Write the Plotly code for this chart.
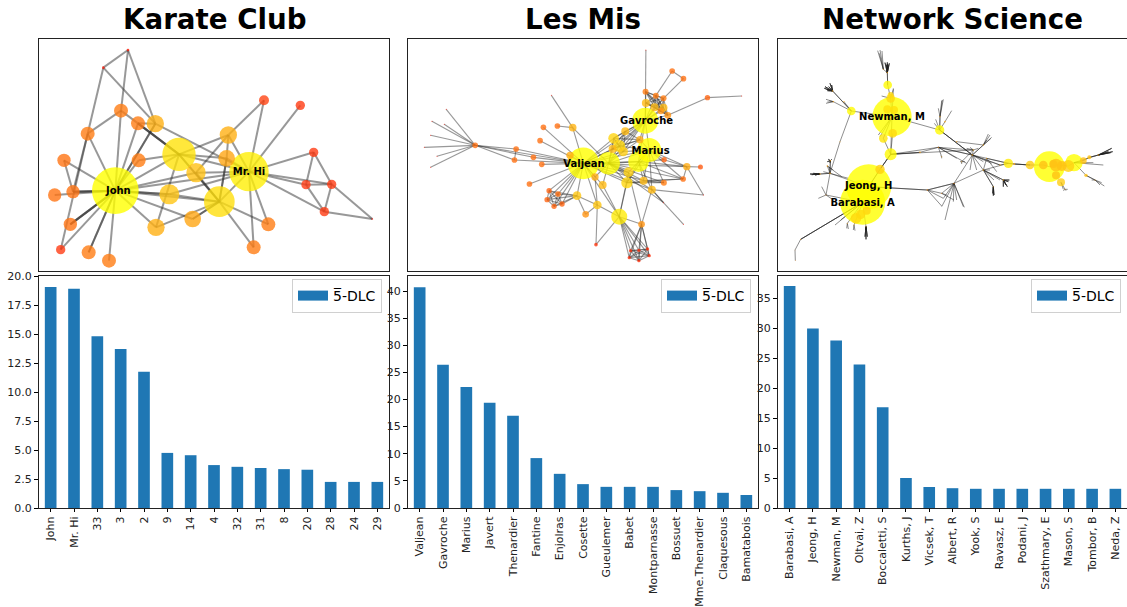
from itertools import combinations
import plotly.graph_objects as go

W, H = 1127, 607
FONT = "DejaVu Sans"
BLUE = "#1f77b4"
LEGEND_NAME = "5\u0305-DLC"

titles = ["Karate Club", "Les Mis", "Network Science"]

karate_names = ["John", "Mr. Hi", "33", "3", "2", "9", "14", "4", "32", "31", "8", "20", "28", "24", "29"]
karate_vals = [19.05, 18.9, 14.8, 13.7, 11.75, 4.75, 4.55, 3.7, 3.55, 3.45, 3.35, 3.3, 2.25, 2.25, 2.25]
lesmis_names = ["Valjean", "Gavroche", "Marius", "Javert", "Thenardier", "Fantine", "Enjolras", "Cosette",
                "Gueulemer", "Babet", "Montparnasse", "Bossuet", "Mme.Thenardier", "Claquesous", "Bamatabois"]
lesmis_vals = [40.7, 26.4, 22.3, 19.4, 17.0, 9.2, 6.3, 4.4, 3.9, 3.9, 3.9, 3.3, 3.1, 2.8, 2.4]
net_names = ["Barabasi, A", "Jeong, H", "Newman, M", "Oltvai, Z", "Boccaletti, S", "Kurths, J", "Vicsek, T",
             "Albert, R", "Yook, S", "Ravasz, E", "Podani, J", "Szathmary, E", "Mason, S", "Tombor, B", "Neda, Z"]
net_vals = [37.0, 29.9, 27.9, 23.9, 16.8, 5.0, 3.5, 3.3, 3.2, 3.2, 3.2, 3.2, 3.2, 3.2, 3.2]

# ---- Karate network: layout position x, y and node diameter
k_nodes = [(256,482,140),(657,425,118),(447,373,100),(568,515,92),(418,493,60),(498,428,58),(595,315,52),
           (590,385,50),(376,281,52),(378,592,52),(488,567,50),(273,242,42),(324,280,42),(173,311,42),
           (326,391,42),(102,391,40),(129,485,40),(74,495,40),(121,583,40),(176,667,42),(237,692,42),
           (92,659,28),(715,583,42),(671,652,42),(702,211,30),(811,226,28),(851,367,28),(828,464,28),
           (905,463,28),(883,545,28),(1027,567,5),(220,113,8),(294,60,8)]
k_edges = [(31,32),(31,13),(13,21),(32,11),(11,0),(32,8),(31,8),(11,13),(11,12),(12,2),(12,2),(12,2),(12,0),
           (8,0),(8,0),(14,0),(14,2),(2,0),(2,6),(2,7),(2,3),(2,3),(2,1),(2,9),(8,1),(5,3),(6,24),(6,1),(6,7),
           (6,5),(7,3),(7,3),(7,1),(5,1),(5,0),(0,1),(0,4),(0,4),(4,1),(0,10),(0,9),(9,3),(10,3),(10,3),(0,3),
           (1,24),(1,25),(1,26),(1,27),(1,28),(1,29),(1,22),(1,23),(1,3),(3,22),(3,23),(26,27),(26,28),(27,28),
           (27,29),(28,29),(28,30),(29,30),(15,0),(15,16),(16,0),(16,0),(16,0),(17,0),(18,0),(18,0),(18,0),
           (19,0),(19,0),(20,0),(21,0),(13,0),(13,16),(12,8),(4,3)]
k_labels = [("John", 265, 483), ("Mr. Hi", 657, 426)]

# ---- Les Mis network
m_nodes = [(552,400,95),(628,400,68),(750,360,72),(718,395,62),(738,272,78),(660,560,48),(683,458,34),(688,427,30),
           (643,325,32),(660,348,36),(672,365,28),(640,357,24),(533,497,26),(594,525,26),(610,465,24),(587,441,22),
           (559,553,20),(727,583,20),(733,452,24),(758,479,24),(794,458,18),(852,447,17),(863,410,22),(904,411,15),
           (795,389,16),(722,329,22),(678,304,24),(520,293,23),(512,376,22),(474,288,17),(432,292,17),(422,332,17),
           (350,357,17),(345,390,17),(402,382,17),(427,403,17),(390,462,17),(227,346,17),(140,238,3),(97,274,3),
           (134,283,3),(93,316,3),(74,352,3),(112,379,3),(93,412,3),(456,196,3),(740,60,3),(1028,198,3),(925,203,16),
           (853,146,17),(819,123,17),(739,185,18),(770,197,18),(793,205,18),(740,219,24),(766,232,24),(793,233,24),
           (785,243,20),(806,256,20),(913,495,3),(793,518,3),(853,583,3),(590,644,11),(449,482,16),(476,492,17),
           (443,509,16),(488,522,16),(464,529,16),(694,662,10),(719,661,10),(745,657,10),(690,683,10),(719,692,10),
           (750,677,10)]
m_stars = [(37,[38,39,40,41,42,43,44,0,32,33,34]),(32,[33,0]),(33,[0]),
           (0,[34,35,36,31,30,27,28,12,63,64,65,66,67,1,2,3,4,15,14,6,5,13,8,9,10,11,18,19,22,7]),
           (29,[27]),(45,[27]),(27,[1]),(5,[68,69,70,71,72,73,17,6,13,14,62,7]),(17,[68,69,70,71,72,73,19,7]),
           (13,[62,12,16,15]),(12,[16]),(1,[8,9,10,11,2,3,4,6,7,18,19,20,14,15,60,21]),
           (2,[24,22,21,20,18,19,6,7,4,25,9,10,3]),(3,[22,18,19,6,24,21,4]),(22,[23,21,24,59]),(19,[59,60,60]),(60,[61]),
           (18,[20,21]),(6,[21,20]),(4,[8,9,10,11,25,26,54,55,56,57,58,51,52,53]),(46,[51]),(48,[47,58]),
           (50,[49,52]),(49,[53])]
m_cliques = [[63,64,65,66,67],[68,69,70,71,72,73],[51,52,53,54,55,56,57,58],[8,9,10,11,25,26]]
m_links12 = [63,64,65,66,67]
m_labels = [("Valjean", 554, 403), ("Marius", 754, 363), ("Gavroche", 742, 275)]

# ---- Network Science network: x, y, diameter, heat
n_nodes = [(366,260,118,1),(296,470,135,1),(278,517,135,1),(838,410,92,1),(912,398,52,1),(362,373,36,.95),
           (353,165,26,.95),(244,243,26,.95),(509,300,28,.95),(715,400,28,.8),(340,325,26,.75),(368,310,26,.6),
           (330,418,28,.5),(290,542,24,.55),(258,565,32,.6),(858,405,38,.42),(820,405,26,.42),(780,405,26,.45),
           (895,408,36,.5),(858,436,24,.42),(873,457,24,.45),(362,205,26,.6),(352,238,24,.7),(940,392,20,.42),
           (958,382,12,.42),(948,436,10,.42),(505,352,4,.33),(450,367,5,.36),(607,375,5,.36),(640,420,5,.36),
           (552,460,4,.33),(472,480,4,.33),(515,490,3,.33),(180,430,5,.36),(172,408,5,.36),(168,495,3,.33),
           (92,628,3,.33),(75,660,2,.33),(76,692,2,.33),(210,335,3,.36),(560,335,4,.36),(650,385,4,.36),
           (690,405,4,.36),(733,402,6,.36),(352,128,4,.36),(340,118,3,.36),(188,183,4,.36),(190,215,4,.36),
           (222,215,4,.36),(510,260,4,.36),(525,275,5,.36),(640,345,4,.36),(670,470,3,.36),(700,450,4,.36),
           (985,375,4,.36),(975,450,3,.36),(885,478,3,.36),(150,432,4,.36),(181,392,4,.36),(288,590,3,.36),
           (252,585,3,.36),(232,580,3,.36),(610,360,4,.36),(575,395,3,.36),(515,380,3,.36),
           (875,408,30,.42),(372,240,24,.7),(272,553,28,.6),(850,402,24,.42),(362,195,18,.6)]
n_edges = [(7,0),(7,39),(39,33),(33,35),(35,2),(2,36),(2,36),(2,36),(36,37),(37,38),(0,8),(8,28),(8,28),(8,28),
           (5,26),(5,27),(5,27),(27,26),(26,28),(26,62),(5,62),(10,5),(11,5),(12,5),(12,5),(12,5),(12,1),(12,1),
           (1,31),(1,31),(31,30),(31,32),(30,29),(30,28),(26,41),(28,29),(28,42),(28,42),(29,9),(42,9),(41,9),
           (41,9),(9,43),(9,43),(43,17),(43,17),(43,17),(17,16),(16,3),(3,15),(15,18),(18,4),(4,23),(23,24),
           (6,21),(21,0),(5,0),(10,0),(6,44),(6,44),(44,45),(7,46),(7,46),(7,47),(7,48),(8,49),(8,49),(8,50),
           (29,52),(29,52),(29,53),(29,53),(28,51),(28,51),(40,51),(4,54),(54,24),(54,24),(4,25),(25,55),(20,56),
           (33,57),(33,57),(33,58),(33,58),(2,59),(2,60),(2,61),(28,62),(62,63),(26,64),(30,32),(34,33),(33,1)]
# tufts of leaf authors: (index of the node they hang from, tip x, tip y)
n_tips = [(44,345,98),(44,352,97),(44,358,100),(44,355,106),(44,349,104),(44,353,102),
          (45,323,62),(45,330,60),(45,336,63),(45,328,70),
          (46,165,170),(46,170,178),(46,180,160),(46,185,165),(46,163,175),(46,176,170),(46,172,182),
          (47,168,208),(47,168,220),(47,178,212),(47,172,216),
          (49,517,210),(49,520,208),(49,515,212),(50,545,242),(8,497,268),(8,493,280),(49,505,235),
          (51,660,315),(51,665,322),(51,655,312),(51,650,330),(51,662,326),(62,590,355),(62,600,352),(62,625,355),
          (63,575,402),(63,570,395),(63,585,395),(64,515,385),(64,512,378),
          (52,670,497),(52,668,490),(52,672,495),(53,715,455),(53,712,470),(53,708,465),(53,700,470),(53,718,450),
          (30,472,480),(30,520,505),(30,515,530),(30,525,570),(30,550,515),(30,560,510),(30,580,530),(30,583,532),
          (31,520,505),(31,515,528),(32,530,495),(32,552,510),(29,660,420),(29,690,450),(29,672,450),
          (28,665,400),(28,640,395),(28,620,420),(28,600,420),(41,680,425),(41,640,420),(26,590,400),(26,560,385),
          (54,1025,355),(54,1028,365),(54,1022,368),(54,1015,365),(4,1000,405),(4,970,398),
          (55,1003,468),(55,995,458),(55,990,465),(55,965,450),(25,975,450),
          (56,880,482),(56,888,482),(56,893,478),(20,880,478),
          (57,120,432),(57,125,434),(57,130,430),(57,135,435),(33,178,412),(33,235,445),(33,160,425),
          (58,175,388),(58,185,388),(58,172,395),(58,180,398),(34,190,420),(34,215,440),
          (35,145,505),(35,155,470),(35,190,510),
          (59,288,628),(59,285,620),(59,292,620),(59,287,600),(60,250,600),(60,255,602),(61,230,595),(61,235,597),
          (2,195,585),(2,212,570),(0,330,320),(0,325,315),(0,370,175),(21,370,178),(21,335,198)]
# tufts that read as nearly solid dark in the picture
n_dense_hubs = [44, 46, 57, 58, 54, 53, 52, 59]
n_labels = [("Newman, M", 366, 263), ("Jeong, H", 296, 468), ("Barabasi, A", 278, 519)]

# ---- panel frames, pixels in the 1127x607 picture
net_ranges = [(27, 1077), (25, 1077), (24, 1071)]
panel_x = [(39, 389), (408, 758), (778, 1127)]
top_y = (39, 271)
bot_y = (276, 508)
y_ranges = [20.0, 42.77, 38.67]
y_dticks = [2.5, 5, 5]
y_formats = [".1f", "d", "d"]

heat = [[0, "rgb(255,20,10)"], [.2, "rgb(255,60,20)"], [.3, "rgb(255,125,20)"], [.37, "rgb(255,175,20)"],
        [.45, "rgb(255,205,20)"], [.7, "rgb(255,225,10)"], [1, "rgb(255,255,0)"]]

fig = go.Figure()


def draw_network(nodes, edges, labels, colors, cmax, width, edge_color, ax, extra_tips=None):
    xa, ya = f"x{ax}", f"y{ax}"
    for a, b in edges:
        fig.add_trace(go.Scatter(x=[nodes[a][0], nodes[b][0]], y=[nodes[a][1], nodes[b][1]], mode="lines",
                                 line=dict(color=edge_color, width=width), hoverinfo="skip", showlegend=False,
                                 xaxis=xa, yaxis=ya))
    for a, tx, ty in extra_tips or []:
        fig.add_trace(go.Scatter(x=[nodes[a][0], tx], y=[nodes[a][1], ty], mode="lines",
                                 line=dict(color=edge_color, width=width), hoverinfo="skip", showlegend=False,
                                 xaxis=xa, yaxis=ya))
    fig.add_trace(go.Scatter(x=[n[0] for n in nodes], y=[n[1] for n in nodes], mode="markers",
                             marker=dict(size=[n[2] / 3 for n in nodes], color=colors, cmin=0, cmax=cmax,
                                         colorscale=heat, opacity=0.8, line=dict(width=0)),
                             hoverinfo="skip", showlegend=False, xaxis=xa, yaxis=ya))
    fig.add_trace(go.Scatter(x=[t[1] for t in labels], y=[t[2] for t in labels], mode="text",
                             text=[t[0] for t in labels], textposition="middle center",
                             textfont=dict(family=FONT, size=10, color="black", weight="bold"),
                             hoverinfo="skip", showlegend=False, xaxis=xa, yaxis=ya))


m_edges = [(a, b) for a, bs in m_stars for b in bs]
m_edges += [pair for c in m_cliques for pair in combinations(c, 2)]
m_edges += [(12, b) for b in m_links12]
n_all_tips = n_tips + [t for t in n_tips if t[0] in n_dense_hubs] * 2

draw_network(k_nodes, k_edges, k_labels, [n[2] for n in k_nodes], 140, 2, "rgba(50,50,50,0.5)", 1)
draw_network(m_nodes, m_edges, m_labels, [n[2] for n in m_nodes], 60, 1.1, "rgba(50,50,50,0.5)", 2)
draw_network(n_nodes, n_edges, n_labels, [n[3] for n in n_nodes], 1, 1, "rgba(30,30,30,0.5)", 3, n_all_tips)

bar_sets = [(karate_names, karate_vals), (lesmis_names, lesmis_vals), (net_names, net_vals)]
for i, (names, vals) in enumerate(bar_sets):
    ax = i + 4
    fig.add_trace(go.Bar(x=names, y=vals, width=0.5, marker=dict(color=BLUE, line=dict(width=0)),
                         showlegend=False, hoverinfo="skip", xaxis=f"x{ax}", yaxis=f"y{ax}"))
    leg = "legend" if i == 0 else f"legend{i + 1}"
    fig.add_trace(go.Scatter(x=[None], y=[None], mode="lines", line=dict(color=BLUE, width=10), name=LEGEND_NAME,
                             showlegend=True, legend=leg, xaxis=f"x{ax}", yaxis=f"y{ax}"))

layout = dict(width=W, height=H, margin=dict(l=0, r=0, t=0, b=0, pad=0, autoexpand=False), autosize=False,
              paper_bgcolor="white", plot_bgcolor="white", font=dict(family=FONT, size=11, color="black"),
              bargap=0.5, hovermode=False)
FRAME = dict(showline=True, mirror=True, linecolor="#222222", linewidth=1.2, showgrid=False, zeroline=False)


def fx(a, b):
    return [a / W, b / W]


def fy(a, b):
    return [1 - b / H, 1 - a / H]


for i in range(3):
    a = i + 1
    layout[f"xaxis{a}"] = dict(domain=fx(*panel_x[i]), range=list(net_ranges[i]), anchor=f"y{a}",
                               showticklabels=False, ticks="", **FRAME)
    layout[f"yaxis{a}"] = dict(domain=fy(*top_y), range=[723, 27], anchor=f"x{a}",
                               showticklabels=False, ticks="", **FRAME)
    b = i + 4
    layout[f"xaxis{b}"] = dict(domain=fx(*panel_x[i]), range=[-0.5, 14.5], anchor=f"y{b}", type="category",
                               tickmode="array", tickvals=bar_sets[i][0], ticktext=bar_sets[i][0], tickangle=-90,
                               ticks="outside", ticklen=3, tickwidth=1, tickcolor="black",
                               tickfont=dict(family=FONT, size=11, color="#222222"), **FRAME)
    layout[f"yaxis{b}"] = dict(domain=fy(*bot_y), range=[0, y_ranges[i]], anchor=f"x{b}", dtick=y_dticks[i],
                               tick0=0, tickformat=y_formats[i], ticks="outside", ticklen=4, tickwidth=1,
                               tickcolor="black", tickfont=dict(family=FONT, size=11, color="#222222"), **FRAME)
    leg = "legend" if i == 0 else f"legend{i + 1}"
    layout[leg] = dict(x=(panel_x[i][0] + 343) / W, y=1 - 279 / H, xanchor="right", yanchor="top",
                       bgcolor="rgba(255,255,255,0.8)", bordercolor="#d0d0d0", borderwidth=1,
                       font=dict(family=FONT, size=14, color="black"), itemwidth=30, tracegroupgap=0)

layout["annotations"] = [dict(text=titles[i], x=sum(panel_x[i]) / 2 / W, y=1 - 19 / H, xref="paper", yref="paper",
                              xanchor="center", yanchor="middle", showarrow=False,
                              font=dict(family=FONT, size=27.7, color="black", weight="bold")) for i in range(3)]
fig.update_layout(**layout)
fig.write_html("out.html", config={"displayModeBar": False},
               post_script="document.body.style.margin='0';document.body.style.overflow='hidden';")
